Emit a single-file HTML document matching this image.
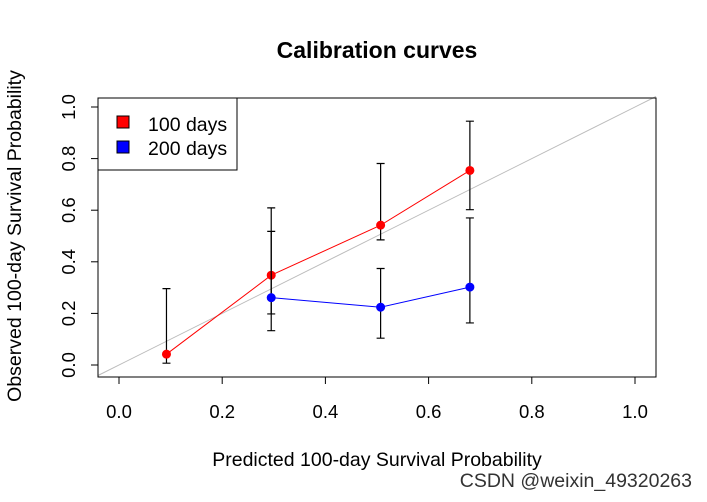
<!DOCTYPE html>
<html><head><meta charset="utf-8"><style>
body{margin:0;background:#fff}
svg text{font-family:"Liberation Sans",Arial,sans-serif}
</style></head><body>
<svg id="c" width="707" height="497" xmlns="http://www.w3.org/2000/svg">
<rect width="707" height="497" fill="#fff"/>
<text x="377" y="58" text-anchor="middle" font-size="23" font-weight="bold">Calibration curves</text>
<text x="377" y="466" text-anchor="middle" font-size="19.5">Predicted 100-day Survival Probability</text>
<text transform="translate(21,236) rotate(-90)" text-anchor="middle" font-size="19.5">Observed 100-day Survival Probability</text>
<g id="plot"></g>
<rect x="98" y="98" width="558" height="279" fill="none" stroke="#000"/>
<g>
<rect x="98" y="98" width="139" height="72" fill="#fff" stroke="#000"/>
<rect x="117" y="116" width="12" height="12" fill="#f00" stroke="#000"/>
<text x="148" y="131" font-size="19.5">100 days</text>
<rect x="117" y="141" width="12" height="12" fill="#00f" stroke="#000"/>
<text x="148" y="155" font-size="19.5">200 days</text>
</g>
<text x="692" y="487" text-anchor="end" font-size="19.5" fill="#333">CSDN @weixin_49320263</text>
</svg>
<script>
const ticks=[0,0.2,0.4,0.6,0.8,1.0];
const tickLabels=["0.0","0.2","0.4","0.6","0.8","1.0"];
const predX=[0.092,0.295,0.507,0.680];
const obs100=[0.042,0.348,0.542,0.754];
const lo100=[0.007,0.198,0.485,0.602];
const hi100=[0.296,0.609,0.781,0.945];
const predX200=[0.295,0.507,0.680];
const obs200=[0.261,0.224,0.302];
const lo200=[0.133,0.104,0.163];
const hi200=[0.518,0.374,0.570];
const xs=v=>119+v*516, ys=v=>365-v*258;
const g=document.getElementById('plot');
const NS="http://www.w3.org/2000/svg";
function el(t,a){const e=document.createElementNS(NS,t);for(const k in a)e.setAttribute(k,a[k]);g.appendChild(e);return e;}
const x0=-(119-98)/516, x1=(656-119)/516;
let d=el('line',{x1:xs(x0),y1:ys(x0),x2:xs(x1),y2:ys(x1),stroke:'#bbb'});


ticks.forEach((t,i)=>{
 let l=el('line',{x1:xs(t),x2:xs(t),y1:377,y2:384,stroke:'#000'});
 
 
 let tx=el('text',{x:xs(t),y:418,'text-anchor':'middle','font-size':18.5});tx.textContent=tickLabels[i];
 
 
 let l2=el('line',{x1:91,x2:98,y1:ys(t),y2:ys(t),stroke:'#000'});
 
 
 let ty=el('text',{transform:`translate(75,${ys(t)}) rotate(-90)`,'text-anchor':'middle','font-size':18.5});ty.textContent=tickLabels[i];
 
 
});
function series(X,Y,L,H,col,name){
 X.forEach((x,i)=>{
  const e=el('path',{d:`M${xs(x)},${ys(L[i])}V${ys(H[i])}M${xs(x)-4},${ys(L[i])}h8M${xs(x)-4},${ys(H[i])}h8`,stroke:'#000','stroke-width':1.2,fill:'none'});
  
  
 });
 const p=el('polyline',{points:X.map((x,i)=>xs(x)+','+ys(Y[i])).join(' '),stroke:col,fill:'none'});
 
 
 X.forEach((x,i)=>{
  const c=el('circle',{cx:xs(x),cy:ys(Y[i]),r:4.5,fill:col});
  
  
 });
}
series(predX,obs100,lo100,hi100,'#f00','series-100');
series(predX200,obs200,lo200,hi200,'#00f','series-200');
</script>
</body></html>
